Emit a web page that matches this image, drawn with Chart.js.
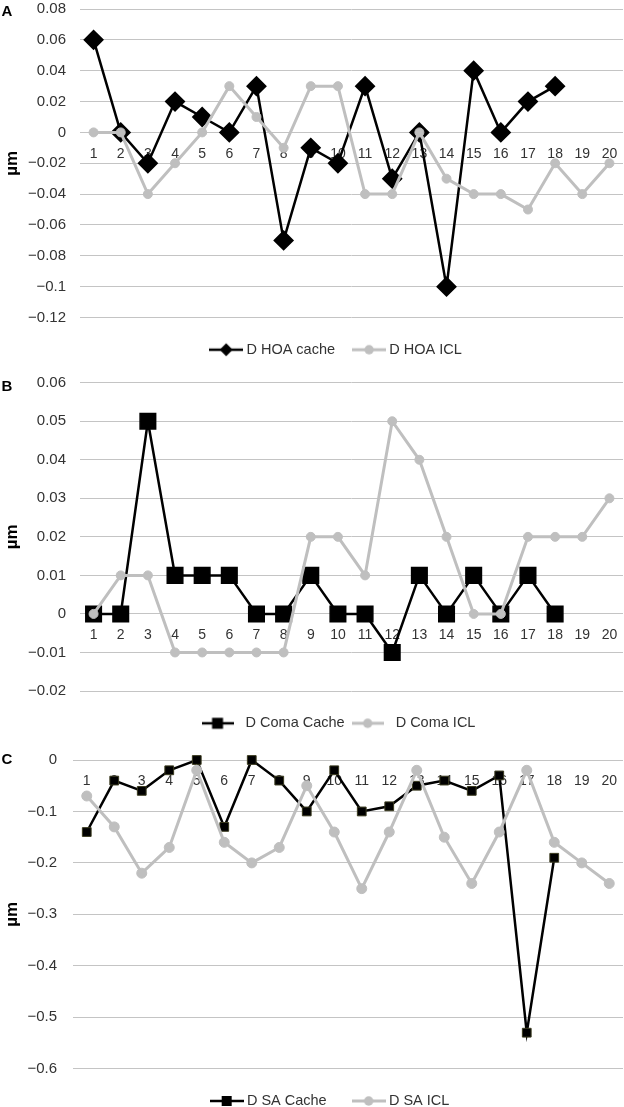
<!DOCTYPE html>
<html>
<head>
<meta charset="utf-8">
<script src="https://cdn.jsdelivr.net/npm/chart.js@4.4.0/dist/chart.umd.min.js"></script>
<style>
  html, body { margin: 0; padding: 0; background: #fff; overflow: hidden; }
  body { width: 624px; height: 1107px; position: relative; }
  .panel { position: absolute; left: 0; width: 624px; }
  .panel canvas { display: block; }
  .tag { position: absolute; left: 1.5px; font: bold 15px/15px "Liberation Sans", Arial, sans-serif; color: #000; }
</style>
</head>
<body>
<div class="panel" style="top:0px;height:370px"><canvas id="cA" width="624" height="370"></canvas></div>
<div class="panel" style="top:370px;height:367px"><canvas id="cB" width="624" height="367"></canvas></div>
<div class="panel" style="top:737px;height:388px"><canvas id="cC" width="624" height="388"></canvas></div>
<div class="tag" style="top:3px">A</div>
<div class="tag" style="top:378px">B</div>
<div class="tag" style="top:751px">C</div>
<script>
// ---------- data ----------
const categories = ['1','2','3','4','5','6','7','8','9','10','11','12','13','14','15','16','17','18','19','20'];

const hoaCache = [0.06, 0, -0.02, 0.02, 0.01, 0, 0.03, -0.07, -0.01, -0.02, 0.03, -0.03, 0, -0.1, 0.04, 0, 0.02, 0.03, null, null];
const hoaIcl   = [0, 0, -0.04, -0.02, 0, 0.03, 0.01, -0.01, 0.03, 0.03, -0.04, -0.04, 0, -0.03, -0.04, -0.04, -0.05, -0.02, -0.04, -0.02];

const comaCache = [0, 0, 0.05, 0.01, 0.01, 0.01, 0, 0, 0.01, 0, 0, -0.01, 0.01, 0, 0.01, 0, 0.01, 0, null, null];
const comaIcl   = [0, 0.01, 0.01, -0.01, -0.01, -0.01, -0.01, -0.01, 0.02, 0.02, 0.01, 0.05, 0.04, 0.02, 0, 0, 0.02, 0.02, 0.02, 0.03];

const saCache = [-0.14, -0.04, -0.06, -0.02, 0, -0.13, 0, -0.04, -0.1, -0.02, -0.1, -0.09, -0.05, -0.04, -0.06, -0.03, -0.53, -0.19, null, null];
const saIcl   = [-0.07, -0.13, -0.22, -0.17, -0.02, -0.16, -0.2, -0.17, -0.05, -0.14, -0.25, -0.14, -0.02, -0.15, -0.24, -0.14, -0.02, -0.16, -0.2, -0.24];

const hoaTicks  = [0.08, 0.06, 0.04, 0.02, 0, -0.02, -0.04, -0.06, -0.08, -0.1, -0.12];
const comaTicks = [0.06, 0.05, 0.04, 0.03, 0.02, 0.01, 0, -0.01, -0.02];
const saTicks   = [0, -0.1, -0.2, -0.3, -0.4, -0.5, -0.6];

const hoaLabels  = ['D HOA cache', 'D HOA ICL'];
const comaLabels = ['D Coma Cache', 'D Coma ICL'];
const saLabels   = ['D SA Cache', 'D SA ICL'];

// ---------- styling ----------
const FONT = '"Liberation Sans", Arial, sans-serif';
const BLACK = '#000000';
const GRAY = '#bfbfbf';
const TXT = '#333333';

function fmt(v) {
  const s = String(Math.round(v * 1000) / 1000);
  return s.replace('-', '\u2212');
}

function sample(color, lw, marker, size, w) {
  const c = document.createElement('canvas');
  c.width = w; c.height = 16;
  const g = c.getContext('2d');
  const cx = w / 2;
  g.strokeStyle = color; g.lineWidth = lw;
  g.beginPath(); g.moveTo(0, 8); g.lineTo(w, 8); g.stroke();
  g.fillStyle = color;
  g.beginPath();
  if (marker === 'diamond') {
    g.moveTo(cx - size, 8); g.lineTo(cx, 8 - size); g.lineTo(cx + size, 8); g.lineTo(cx, 8 + size); g.closePath();
  } else if (marker === 'square') {
    g.rect(cx - size, 8 - size, size * 2, size * 2);
  } else {
    g.arc(cx, 8, size, 0, Math.PI * 2);
  }
  g.fill();
  return c;
}

function legendShift(dx, dy) {
  return {
    id: 'legendShift',
    afterLayout(chart) {
      const l = chart.legend;
      l.left += dx; l.right += dx; l.top += dy; l.bottom += dy;
    }
  };
}

function makeChart(id, cfg) {
  const ctx = document.getElementById(id);
  const samples = [
    sample(BLACK, 2.5, cfg.cacheMarker === 'rectRot' ? 'diamond' : 'square', cfg.legendMarker, cfg.sampleW),
    sample(GRAY, 3, 'circle', 4.7, cfg.sampleW)
  ];
  return new Chart(ctx, {
    type: 'line',
    data: {
      labels: categories,
      datasets: [
        {
          label: cfg.labels[0],
          data: cfg.cache,
          order: 1,
          borderColor: BLACK,
          backgroundColor: BLACK,
          borderWidth: 2.5,
          pointStyle: cfg.cacheMarker,
          pointRadius: cfg.cacheRadius,
          pointHoverRadius: cfg.cacheRadius,
          pointBackgroundColor: BLACK,
          pointBorderColor: cfg.cacheBorder,
          pointBorderWidth: cfg.cacheBorderWidth,
          tension: 0,
          spanGaps: false,
          clip: false
        },
        {
          label: cfg.labels[1],
          data: cfg.icl,
          order: 0,
          borderColor: GRAY,
          backgroundColor: GRAY,
          borderWidth: 3,
          pointStyle: 'circle',
          pointRadius: cfg.iclRadius,
          pointHoverRadius: cfg.iclRadius,
          pointBackgroundColor: GRAY,
          pointBorderColor: GRAY,
          pointBorderWidth: 1,
          tension: 0,
          clip: false
        }
      ]
    },
    options: {
      responsive: false,
      animation: false,
      devicePixelRatio: 1,
      layout: { autoPadding: false, padding: { top: cfg.padTop, bottom: cfg.padBottom, left: 0, right: 1 } },
      plugins: {
        tooltip: { enabled: false },
        legend: {
          position: 'bottom',
          labels: {
            usePointStyle: true,
            pointStyleWidth: cfg.boxW,
            padding: cfg.legendPad,
            color: TXT,
            font: { family: FONT, size: 14.5 },
            generateLabels: () => cfg.labels.map((t, i) => ({
              text: t,
              pointStyle: samples[i],
              fillStyle: i ? GRAY : BLACK,
              strokeStyle: i ? GRAY : BLACK,
              lineWidth: 0,
              hidden: false,
              datasetIndex: i,
              fontColor: TXT
            }))
          }
        }
      },
      scales: {
        x: {
          type: 'category',
          offset: true,
          position: { y: 0 },
          grid: { display: false, drawTicks: false },
          border: { display: false },
          ticks: {
            color: TXT,
            font: { family: FONT, size: 14, lineHeight: 3.07 },
            padding: 0,
            maxRotation: 0,
            autoSkip: false
          },
          afterFit: s => { s.height = 0; s.paddingLeft = 0; s.paddingRight = 0; }
        },
        y: {
          position: 'left',
          min: cfg.ticks[cfg.ticks.length - 1],
          max: cfg.ticks[0],
          afterBuildTicks: s => { s.ticks = cfg.ticks.slice().reverse().map(v => ({ value: v })); },
          grid: { color: '#c4c4c4', lineWidth: 1, drawTicks: true, tickLength: cfg.tickPad, tickColor: 'rgba(0,0,0,0)' },
          border: { display: false },
          ticks: {
            color: TXT,
            font: { family: FONT, size: 15 },
            padding: 0,
            callback: v => fmt(v)
          },
          title: {
            display: true,
            text: '\u00b5m',
            color: '#000',
            font: { family: FONT, size: 17, weight: 'bold' },
            padding: { top: 2, bottom: 0 }
          },
          afterFit: s => { s.width = cfg.axisWidth; }
        }
      }
    },
    plugins: [legendShift(cfg.legendDx, cfg.legendDy)]
  });
}

makeChart('cA', {
  cache: hoaCache, icl: hoaIcl, ticks: hoaTicks, labels: hoaLabels,
  cacheMarker: 'rectRot', cacheRadius: 9, cacheBorder: BLACK, cacheBorderWidth: 2, legendMarker: 6.5,
  iclRadius: 4.5,
  padTop: 9, padBottom: 7, axisWidth: 80, tickPad: 14,
  sampleW: 34, boxW: 26, legendPad: 21, legendDx: 26, legendDy: 4
});

makeChart('cB', {
  cache: comaCache, icl: comaIcl, ticks: comaTicks, labels: comaLabels,
  cacheMarker: 'rect', cacheRadius: 11, cacheBorder: BLACK, cacheBorderWidth: 1.5, legendMarker: 5.5,
  iclRadius: 4.5,
  padTop: 12.7, padBottom: 19.25, axisWidth: 80, tickPad: 14,
  sampleW: 32, boxW: 41.5, legendPad: 2.25, legendDx: 24.6, legendDy: 22.8
});

makeChart('cC', {
  cache: saCache, icl: saIcl, ticks: saTicks, labels: saLabels,
  cacheMarker: 'rect', cacheRadius: 6.2, cacheBorder: '#3a3a1e', cacheBorderWidth: 1, legendMarker: 5,
  iclRadius: 5,
  padTop: 23, padBottom: 2.8, axisWidth: 73, tickPad: 16,
  sampleW: 34, boxW: 26, legendPad: 29, legendDx: 20, legendDy: -4
});
</script>
</body>
</html>
